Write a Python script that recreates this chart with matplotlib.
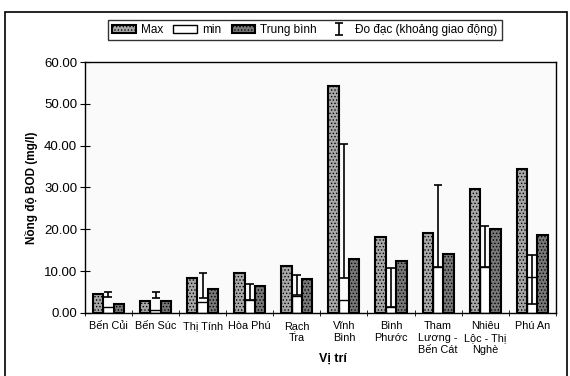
import numpy as np
import matplotlib
matplotlib.use('Agg')
import matplotlib.pyplot as plt
from matplotlib.patches import Rectangle

plt.rcParams['font.family'] = ['Liberation Sans', 'DejaVu Sans']
plt.rcParams['hatch.linewidth'] = 0.6

# dữ liệu
vi_tri = ['Bến Củi', 'Bến Súc', 'Thị Tính', 'Hòa Phú', 'Rạch\nTra', 'Vĩnh\nBình',
          'Bình\nPhước', 'Tham\nLương -\nBến Cát', 'Nhiêu\nLộc - Thị\nNghè', 'Phú An']
max_vals = [4.6, 2.9, 8.4, 9.5, 11.2, 54.2, 18.1, 19.0, 29.6, 34.4]
min_vals = [1.3, 0.7, 2.5, 3.1, 4.0, 3.1, 1.5, 10.9, 10.9, 8.6]
tb_vals = [2.1, 2.8, 5.7, 6.3, 8.2, 12.9, 12.4, 14.1, 20.0, 18.7]
do_dac_thap = [3.8, 3.6, 3.6, 3.0, 4.3, 8.4, 1.5, 11.0, 10.9, 2.0]
do_dac_cao = [5.1, 5.1, 9.6, 6.9, 9.0, 40.5, 10.7, 30.6, 20.8, 13.9]

fig = plt.figure(figsize=(5.7, 3.76), dpi=100)
ax = fig.add_axes([0.149, 0.168, 0.826, 0.667])

x = np.arange(len(vi_tri))
w = 0.22
ax.bar(x - w, max_vals, w, color='#a8a8a8', edgecolor='black', lw=1.5, hatch='.....', label='Max', zorder=2)
ax.bar(x, min_vals, w, color='white', edgecolor='black', lw=1.0, label='min', zorder=2)
ax.bar(x + w, tb_vals, w, color='#777777', edgecolor='black', lw=1.5, hatch='.....', label='Trung bình', zorder=2)

mid = [(a + b) / 2 for a, b in zip(do_dac_thap, do_dac_cao)]
err = [(b - a) / 2 for a, b in zip(do_dac_thap, do_dac_cao)]
eb = ax.errorbar(x, mid, yerr=err, fmt='none', ecolor='black', elinewidth=1.2, capsize=3,
                 capthick=1.2, zorder=3, label='Đo đạc (khoảng giao động)')

ax.set_xlim(-0.5, len(vi_tri) - 0.5)
ax.set_ylim(0, 60)
ax.set_yticks(np.arange(0, 61, 10))
ax.set_yticklabels(['%.2f' % v for v in np.arange(0, 61, 10)], fontsize=9.5)
ax.set_xticks(x)
ax.set_xticklabels(vi_tri, fontsize=7.8, va='top', linespacing=1.25)
ax.tick_params(axis='x', length=0, pad=6)
ax.set_xticks(np.arange(-0.5, len(vi_tri), 1), minor=True)
ax.tick_params(axis='x', which='minor', direction='inout', length=5)
ax.tick_params(axis='y', direction='inout', length=7, pad=2)
ax.set_facecolor('#fafafa')
for s in ax.spines.values():
    s.set_linewidth(1.0)

ax.set_ylabel('Nồng độ BOD (mg/l)', fontsize=8.5, fontweight='bold', labelpad=4)
ax.set_xlabel('Vị trí', fontsize=9, fontweight='bold')
ax.xaxis.set_label_coords(0.527, -0.16)

leg = fig.legend(loc='center', bbox_to_anchor=(0.535, 0.92), ncol=4, fontsize=8.5,
                 frameon=True, fancybox=False, edgecolor='black', handlelength=2.0,
                 handleheight=0.6, columnspacing=0.9, handletextpad=0.4, borderpad=0.35)
leg.get_frame().set_linewidth(1.0)

# khung ngoài
fig.patches.append(Rectangle((0.009, -0.01), 0.986, 0.978, transform=fig.transFigure,
                             fill=False, edgecolor='black', lw=1.2))

fig.savefig('out.png', dpi=100)
